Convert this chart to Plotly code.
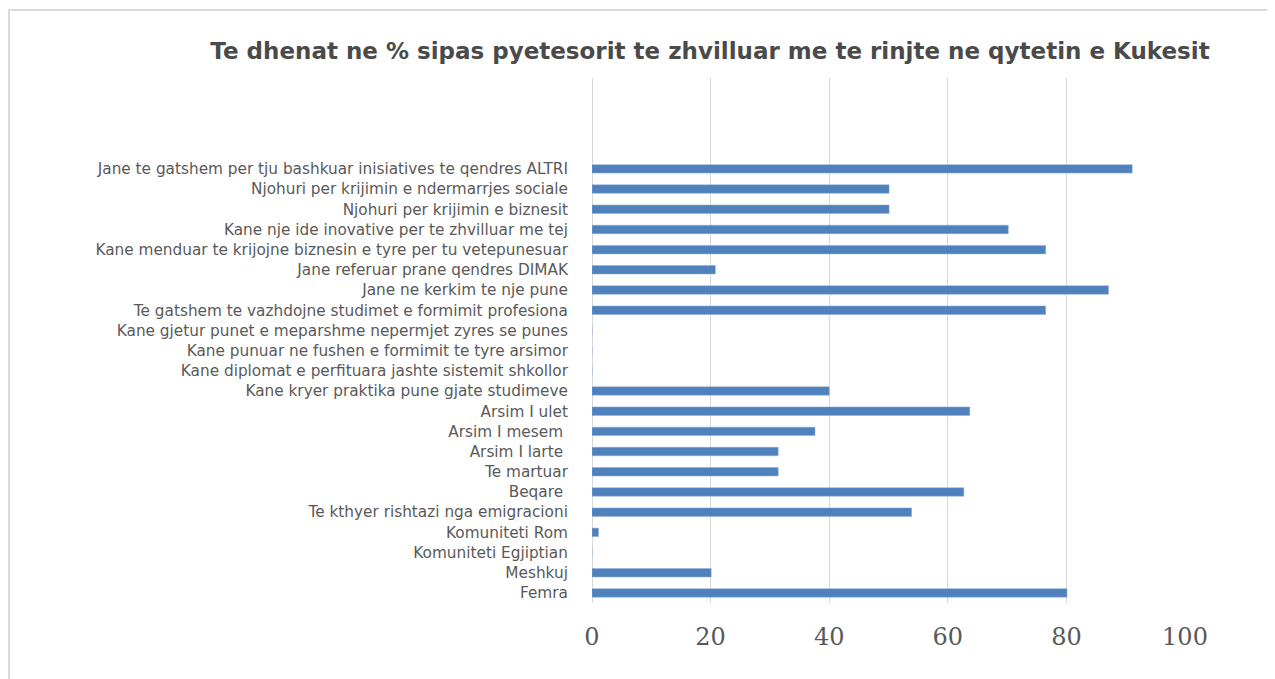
import plotly.graph_objects as go

categories = [
    "Femra",
    "Meshkuj",
    "Komuniteti Egjiptian",
    "Komuniteti Rom",
    "Te kthyer rishtazi nga emigracioni",
    "Beqare ",
    "Te martuar",
    "Arsim I larte ",
    "Arsim I mesem ",
    "Arsim I ulet",
    "Kane kryer praktika pune gjate studimeve",
    "Kane diplomat e perfituara jashte sistemit shkollor",
    "Kane punuar ne fushen e formimit te tyre arsimor",
    "Kane gjetur punet e meparshme nepermjet zyres se punes",
    "Te gatshem te vazhdojne studimet e formimit profesiona",
    "Jane ne kerkim te nje pune",
    "Jane referuar prane qendres DIMAK",
    "Kane menduar te krijojne biznesin e tyre per tu vetepunesuar",
    "Kane nje ide inovative per te zhvilluar me tej",
    "Njohuri per krijimin e biznesit",
    "Njohuri per krijimin e ndermarrjes sociale",
    "Jane te gatshem per tju bashkuar inisiatives te qendres ALTRI",
]
values = [80.1, 20.1, 0, 1.1, 53.9, 62.7, 31.4, 31.4, 37.6, 63.7, 40.0,
          0, 0, 0, 76.5, 87.1, 20.8, 76.5, 70.2, 50.1, 50.1, 91.1]
x_ticks = [0, 20, 40, 60, 80, 100]

# page has an 8px body margin, so the figure origin sits at (8, 8)
W, H = 1267, 671
L, R, T, B = 584, 90, 70, 76
pw, ph = W - L - R, H - T - B

fig = go.Figure(go.Bar(
    x=values, y=categories, orientation="h",
    marker=dict(color="#4f81bd", line=dict(color="#8eaadb", width=0.5)),
    width=0.42,
))

fig.update_layout(
    width=W, height=H,
    margin=dict(l=L, r=R, t=T, b=B),
    paper_bgcolor="white", plot_bgcolor="white",
    showlegend=False,
    title=dict(
        text="Te dhenat ne % sipas pyetesorit te zhvilluar me te rinjte ne qytetin e Kukesit",
        x=702 / W, xanchor="center", y=1 - 43 / H, yanchor="middle",
        font=dict(family="DejaVu Sans", size=23, color="#4a4a4a", weight=700),
    ),
    xaxis=dict(
        range=[0, 100], tickvals=x_ticks, showgrid=True, gridcolor="#d9d9d9", gridwidth=1,
        zeroline=True, zerolinecolor="#d9d9d9", zerolinewidth=1, showline=False,
        tickfont=dict(family="DejaVu Serif", size=24, color="#595959"),
        ticks="outside", ticklen=12, tickcolor="rgba(0,0,0,0)",
    ),
    yaxis=dict(
        type="category", categoryorder="array", categoryarray=categories,
        range=[-0.5, 25.5], showgrid=False, zeroline=False, showline=False,
        ticks="outside", ticklen=20, tickcolor="rgba(0,0,0,0)",
        tickfont=dict(family="DejaVu Sans", size=15.3, color="#595959"),
    ),
    shapes=[
        dict(type="line", xref="paper", yref="paper",
             x0=(0 - L) / pw, x1=(W - L) / pw, y0=(H - B - 2) / ph, y1=(H - B - 2) / ph,
             line=dict(color="#d9d9d9", width=2)),
        dict(type="line", xref="paper", yref="paper",
             x0=(1 - L) / pw, x1=(1 - L) / pw, y0=(H - B - 2) / ph, y1=(H - B - H) / ph,
             line=dict(color="#d9d9d9", width=2)),
    ],
)

fig.write_html("out.html")
